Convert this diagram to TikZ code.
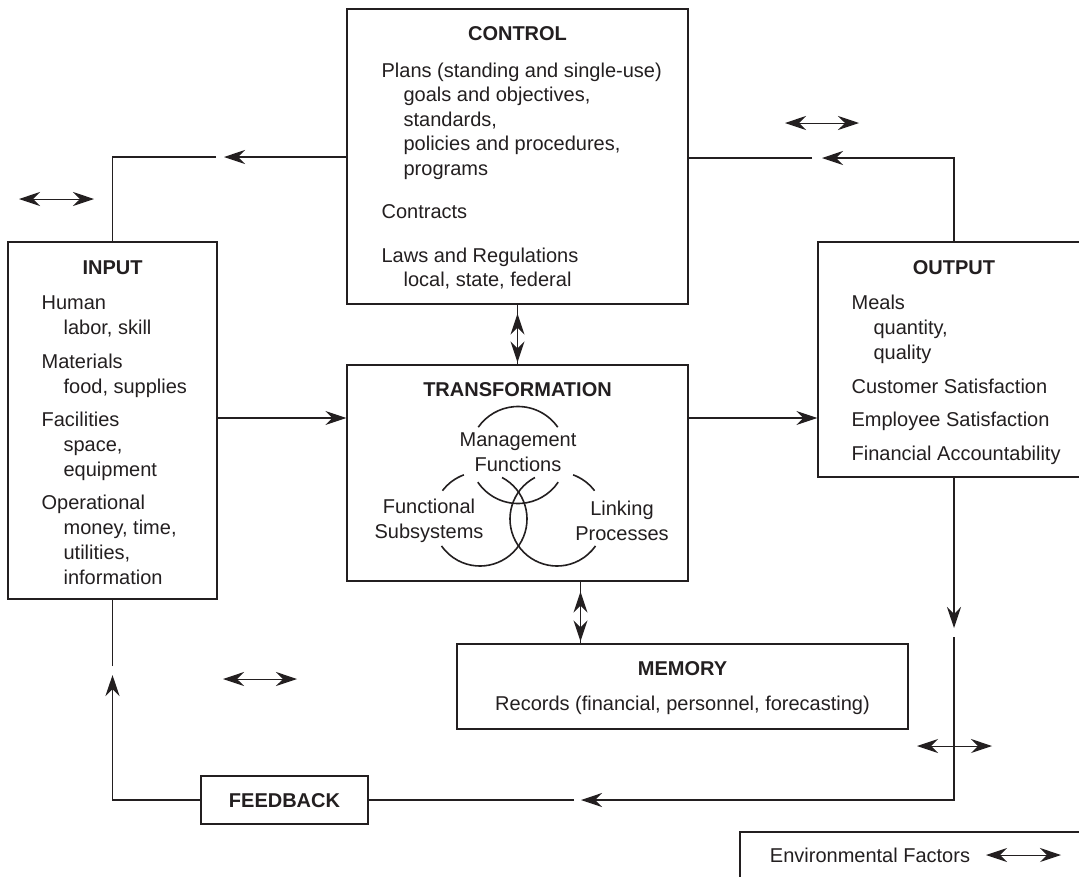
\documentclass[tikz,border=0pt]{standalone}
\usepackage{fontspec}
\setmainfont{Liberation Sans}
\usetikzlibrary{arrows.meta}
\definecolor{ink}{RGB}{35,31,32}
\begin{document}
\begin{tikzpicture}[x=1pt,y=-1pt,
  line width=1.2pt, draw=ink,
  box/.style={draw=ink, line width=1.2pt, rectangle, inner sep=0pt, fill=white},
  txt/.style={font=\fontsize{20}{25}\selectfont, text=ink, inner sep=0pt},
  ctltxt/.style={font=\fontsize{20}{24.5}\selectfont, text=ink, inner sep=0pt},
  hd/.style={font=\fontsize{20}{25}\selectfont\bfseries, text=ink, inner sep=0pt},
  tip/.style={-{Stealth[length=21pt,width=14pt,inset=7pt]}},
  dbl/.style={{Stealth[length=21pt,width=14pt,inset=7pt]}-{Stealth[length=21pt,width=14pt,inset=7pt]}},
  env/.style={line width=1pt,{Stealth[length=21pt,width=14pt,inset=7pt]}-{Stealth[length=21pt,width=14pt,inset=7pt]}},
  ring/.style={line width=1.6pt, draw=ink}
]
\useasboundingbox (0,0) rectangle (1079,876);
\clip (0,0) rectangle (1079,876);
\fill[white] (0,0) rectangle (1079,876);

% ---------- boxes ----------
\node[box, minimum width=341pt, minimum height=295pt] (control) at (517.5,156.5) {};
\node[box, minimum width=209pt, minimum height=357pt] (input) at (112.5,420.5) {};
\node[box, minimum width=272pt, minimum height=235pt] (output) at (954,359.5) {};
\node[box, minimum width=341pt, minimum height=216pt] (transf) at (517.5,473) {};
\node[box, minimum width=451pt, minimum height=85pt] (memory) at (682.5,686.5) {};
\node[box, minimum width=167pt, minimum height=48pt] (feedback) at (284.5,800) {};
\node[box, minimum width=400pt, minimum height=100pt] (legend) at (940,882) {};

% ---------- CONTROL text ----------
\node[hd, anchor=base] (ctlhd) at (517.5,40) {CONTROL};
\node[ctltxt, anchor=base west] (ctlbody) at (381,77) {\begin{tabular}[t]{@{}l@{}}
Plans (standing and single-use)\\
\hspace*{22pt}goals and objectives,\\
\hspace*{22pt}standards,\\
\hspace*{22pt}policies and procedures,\\
\hspace*{22pt}programs\\[19pt]
Contracts\\[19pt]
Laws and Regulations\\
\hspace*{22pt}local, state, federal
\end{tabular}};

% ---------- INPUT text ----------
\node[hd, anchor=base] (inhd) at (112.5,274) {INPUT};
\node[txt, anchor=base west] (inbody) at (41,309) {\begin{tabular}[t]{@{}l@{}}
Human\\
\hspace*{22pt}labor, skill\\[9pt]
Materials\\
\hspace*{22pt}food, supplies\\[8pt]
Facilities\\
\hspace*{22pt}space,\\
\hspace*{22pt}equipment\\[8pt]
Operational\\
\hspace*{22pt}money, time,\\
\hspace*{22pt}utilities,\\
\hspace*{22pt}information
\end{tabular}};

% ---------- OUTPUT text ----------
\node[hd, anchor=base] (outhd) at (954,274) {OUTPUT};
\node[txt, anchor=base west] (outbody) at (851,309) {\begin{tabular}[t]{@{}l@{}}
Meals\\
\hspace*{22pt}quantity,\\
\hspace*{22pt}quality\\[9pt]
Customer Satisfaction\\[8pt]
Employee Satisfaction\\[9pt]
Financial Accountability
\end{tabular}};

% ---------- TRANSFORMATION ----------
\node[hd, anchor=base] (trhd) at (517.5,396) {TRANSFORMATION};
\draw[ring] (518,455) ++(-35:48.5) arc[start angle=-35, end angle=-145, radius=48.5];
\draw[ring] (518,455) ++(146:48.5) arc[start angle=146, end angle=34, radius=48.5];
\draw[ring] (480,519) ++(-110:47) arc[start angle=-110, end angle=-143, radius=47];
\draw[ring] (480,519) ++(-62:47) arc[start angle=-62, end angle=145, radius=47];
\draw[ring] (557,519) ++(-37:47) arc[start angle=-37, end angle=-70, radius=47];
\draw[ring] (557,519) ++(-118:47) arc[start angle=-118, end angle=-325, radius=47];
\node[txt, align=center] (mgmt) at (518,452.5) {Management\\Functions};
\node[txt, align=center] (func) at (429,520.5) {Functional\\Subsystems};
\node[txt, align=center] (link) at (622,520.5) {Linking\\Processes};

% ---------- MEMORY / FEEDBACK / legend text ----------
\node[hd, anchor=base] (memhd) at (682.5,675) {MEMORY};
\node[txt, anchor=base] (membody) at (682.5,710) {Records (financial, personnel, forecasting)};
\node[hd, anchor=base] (fbhd) at (284.5,807) {FEEDBACK};
\node[txt, anchor=base] (legtxt) at (870,862) {Environmental Factors};

% ---------- connectors ----------
\coordinate (midy) at (0,418);
\draw[tip] (input.east |- midy) -- (transf.west |- midy);
\draw[tip] (transf.east |- midy) -- (output.west |- midy);

% control -> input (top left loop)
\coordinate (ctltip) at (224,157);
\coordinate (ctlgap) at (216,157);
\draw[tip] (control.west |- ctltip) -- (ctltip);
\draw (ctlgap) -| (input.north);

% output -> control (top right loop)
\coordinate (outtip) at (822,158);
\coordinate (outgap) at (812,158);
\draw[tip] (output.north) |- (outtip);
\draw (outgap) -- (control.east |- outgap);

% output -> feedback
\coordinate (dtip) at (954,628);
\coordinate (dgap) at (954,637);
\coordinate (btip) at (581,800);
\coordinate (bgap) at (574,800);
\draw[tip] (output.south) -- (dtip);
\draw[tip] (dgap) |- (btip);
\draw (bgap) -- (feedback.east);

% feedback -> input
\coordinate (utip) at (112.5,675);
\coordinate (ugap) at (112.5,666);
\draw[tip] (feedback.west) -| (utip);
\draw (ugap) -- (input.south);

% control <-> transformation
\draw (control.south) -- (transf.north);
\draw[dbl, shorten <=9pt, shorten >=2pt] (control.south) -- (transf.north);

% transformation <-> memory
\coordinate (mx) at (580.5,0);
\draw (transf.south -| mx) -- (memory.north -| mx);
\draw[dbl, shorten <=10pt, shorten >=2pt] (transf.south -| mx) -- (memory.north -| mx);

% ---------- environmental factors ----------
\coordinate (ea1) at (19,199);  \coordinate (ea2) at (94,199);
\coordinate (eb1) at (785,123); \coordinate (eb2) at (859,123);
\coordinate (ec1) at (223,679); \coordinate (ec2) at (297,679);
\coordinate (ed1) at (917,746); \coordinate (ed2) at (992,746);
\coordinate (ee1) at (986,855); \coordinate (ee2) at (1061,855);
\draw[env] (ea1) -- (ea2);
\draw[env] (eb1) -- (eb2);
\draw[env] (ec1) -- (ec2);
\draw[env] (ed1) -- (ed2);
\draw[env] (ee1) -- (ee2);
\end{tikzpicture}
\end{document}
